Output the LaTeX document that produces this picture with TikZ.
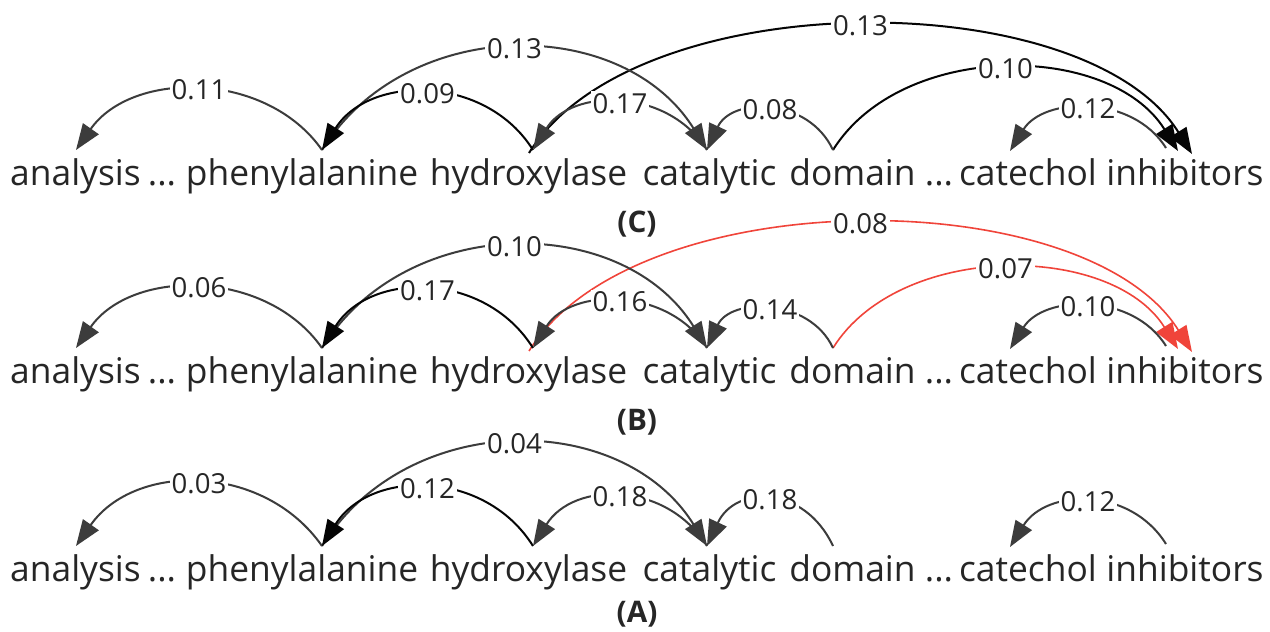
\documentclass[tikz,border=0pt]{standalone}
\usepackage{fontspec}
\setmainfont{Open Sans}
\usetikzlibrary{arrows.meta}
\definecolor{txt}{HTML}{262626}
\definecolor{edgegray}{HTML}{3c3c3c}
\definecolor{edgeblack}{HTML}{050505}
\definecolor{hl}{HTML}{F0443A}
\newlength\sentw
\newsavebox\sentbox

% one row of words with the attachment points of the arcs
\newcommand\depwords{%
  \node[word] (analysis) at (75.5,446) {analysis};
  \node[word] (dotsa)    at (162,446) {...};
  \node[word] (phen)     at (302,446) {phenylalanine};
  \node[word] (hydrox)   at (528.5,446) {hydroxylase};
  \node[word] (catal)    at (709.5,446) {catalytic};
  \node[word] (domain)   at (852.5,446) {domain};
  \node[word] (dotsb)    at (939,446) {...};
  \node[word] (catech)   at (1028,446) {catechol};
  \node[word] (inhib)    at (1185,446) {inhibitors};
  \coordinate (an)  at (76,482);
  \coordinate (ph)  at (322,482);
  \coordinate (hy)  at (533,482);
  \coordinate (hyT) at (529,479);
  \coordinate (ca)  at (707,482);
  \coordinate (do)  at (833,482);
  \coordinate (ce)  at (1010,481);
  \coordinate (inT) at (1166,484);
  \coordinate (inA) at (1178,481);
  \coordinate (inB) at (1192,478);
}

\begin{document}
\sbox\sentbox{\fontsize{10}{12}\selectfont analysis ... phenylalanine hydroxylase catalytic domain ... catechol inhibitors}%
\setlength\sentw{\wd\sentbox}%
\pgfmathsetmacro\mainsize{10*625.5/\sentw}%
\pgfmathsetmacro\labsize{0.78*\mainsize}%
\pgfmathsetmacro\tagsize{0.84*\mainsize}%
\begin{tikzpicture}[x=0.5pt,y=0.5pt,
  >={Triangle[length=13pt,width=9.5pt]},
  word/.style={font=\fontsize{\mainsize}{\mainsize}\selectfont, anchor=base,
    inner sep=0pt, text=txt},
  lab/.style={font=\fontsize{\labsize}{\labsize}\selectfont, fill=white,
    inner sep=1pt, text=txt},
  tag/.style={font=\fontsize{\tagsize}{\tagsize}\selectfont\bfseries, text=txt,
    inner sep=0pt},
  dg/.style={line width=1pt, draw=edgegray},
  dk/.style={line width=1pt, draw=edgeblack},
  dr/.style={line width=0.8pt, draw=hl}]
\fill[white] (0,0) rectangle (1270,632);
\useasboundingbox (0,0) rectangle (1270,632);

% (C)
\begin{scope}[name prefix=C-]
\depwords
\draw[dk,->] (hyT) to[out=58,in=122,looseness=0.779] node[lab]{0.13} (inB);
\draw[dg,->] (ph) to[out=58,in=122,looseness=1.064] node[lab]{0.13} (ca);
\draw[dk,->] (do) to[out=58,in=122,looseness=0.955] node[lab]{0.10} (inA);
\draw[dg,<-] (an) to[out=55,in=125,looseness=1.015] node[lab]{0.11} (ph);
\draw[dk,<-] (ph) to[out=58,in=122,looseness=1.084] node[lab]{0.09} (hy);
\draw[dg,<-] (hy) to[out=58,in=122,looseness=1.084] node[lab]{0.17} (ca);
\draw[dg,<-] (ce) to[out=58,in=122,looseness=1.044] node[lab]{0.12} (inT);
\draw[dg,<-] (ca) to[out=65,in=115,looseness=1.192] node[lab]{0.08} (do);
\end{scope}
\node[tag] (tagC) at (637,408) {(C)};

% (B)
\begin{scope}[yshift=-99pt, name prefix=B-]
\depwords
\draw[dr,->] (hyT) to[out=58,in=122,looseness=0.779] node[lab]{0.08} (inB);
\draw[dg,->] (ph) to[out=58,in=122,looseness=1.064] node[lab]{0.10} (ca);
\draw[dr,->] (do) to[out=58,in=122,looseness=0.931] node[lab]{0.07} (inA);
\draw[dg,<-] (an) to[out=55,in=125,looseness=1.015] node[lab]{0.06} (ph);
\draw[dk,<-] (ph) to[out=58,in=122,looseness=1.104] node[lab]{0.17} (hy);
\draw[dg,<-] (hy) to[out=58,in=122,looseness=1.062] node[lab]{0.16} (ca);
\draw[dg,<-] (ce) to[out=58,in=122,looseness=1.044] node[lab]{0.10} (inT);
\draw[dg,<-] (ca) to[out=65,in=115,looseness=1.135] node[lab]{0.14} (do);
\end{scope}
\node[tag] (tagB) at (637,210) {(B)};

% (A)
\begin{scope}[yshift=-198pt, name prefix=A-]
\depwords
\draw[dg,->] (ph) to[out=58,in=122,looseness=1.074] node[lab]{0.04} (ca);
\draw[dg,<-] (an) to[out=55,in=125,looseness=1.065] node[lab]{0.03} (ph);
\draw[dk,<-] (ph) to[out=58,in=122,looseness=1.104] node[lab]{0.12} (hy);
\draw[dg,<-] (hy) to[out=58,in=122,looseness=1.131] node[lab]{0.18} (ca);
\draw[dg,<-] (ce) to[out=58,in=122,looseness=1.121] node[lab]{0.12} (inT);
\draw[dg,<-] (ca) to[out=65,in=115,looseness=1.372] node[lab]{0.18} (do);
\end{scope}
\node[tag] (tagA) at (637,18) {(A)};
\end{tikzpicture}
\end{document}
